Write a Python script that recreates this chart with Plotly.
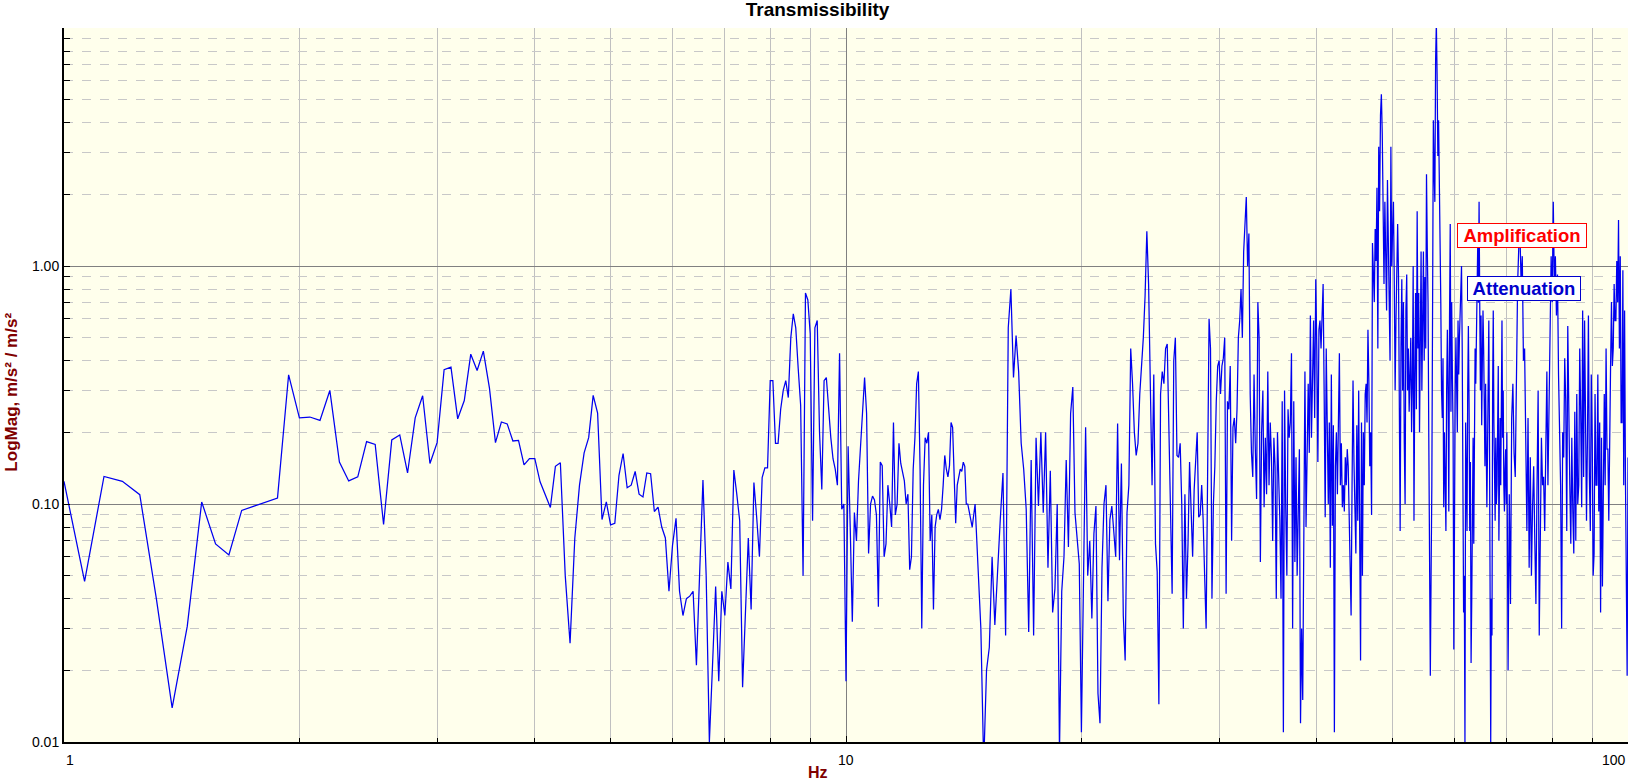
import numpy as np
import plotly.graph_objects as go

# ---------------- data (frequency bins, magnitude) ----------------
# Segment 1: 1.0 Hz .. 14.3125 Hz, bins every 0.0625 Hz (16 values per Hz row)
SEG1_START, SEG1_STEP = 1.0, 0.0625
mag_seg1 = [
    0.1245, 0.0473, 0.1306, 0.1245, 0.1094, 0.040, 0.0139, 0.0306, 0.102, 0.068, 0.0611, 0.094, 0.098, 0.102, 0.106, 0.349,
    0.23, 0.232, 0.2245, 0.30, 0.15, 0.125, 0.13, 0.183, 0.178, 0.082, 0.186, 0.195, 0.135, 0.23, 0.285, 0.148,
    0.181, 0.367, 0.376, 0.228, 0.272, 0.426, 0.364, 0.439, 0.307, 0.181, 0.221, 0.217, 0.184, 0.185, 0.146, 0.155,
    0.155, 0.124, 0.109, 0.0967, 0.144, 0.149, 0.05, 0.026, 0.072, 0.12, 0.164, 0.19, 0.286, 0.241, 0.086, 0.102,
    0.0817, 0.083, 0.132, 0.163, 0.117, 0.12, 0.137, 0.11, 0.107, 0.135, 0.134, 0.093, 0.097, 0.08, 0.072, 0.043,
    0.067, 0.087, 0.043, 0.034, 0.04, 0.041, 0.043, 0.021, 0.052, 0.126, 0.05, 0.01, 0.021, 0.045, 0.018, 0.043,
    0.034, 0.057, 0.044, 0.139, 0.11, 0.085, 0.017, 0.036, 0.072, 0.036, 0.123, 0.088, 0.06, 0.129, 0.142, 0.142,
    0.33, 0.33, 0.18, 0.18, 0.25, 0.30, 0.33, 0.28, 0.5, 0.63, 0.55, 0.37, 0.26, 0.05, 0.77, 0.72,
    0.52, 0.085, 0.55, 0.59, 0.2, 0.115, 0.33, 0.34, 0.25, 0.19, 0.155, 0.14, 0.12, 0.43, 0.095, 0.1,
    0.018, 0.175, 0.08, 0.032, 0.092, 0.07, 0.125, 0.175, 0.22, 0.34, 0.24, 0.062, 0.1, 0.108, 0.104, 0.09,
    0.037, 0.15, 0.145, 0.06, 0.068, 0.12, 0.1, 0.08, 0.22, 0.09, 0.1, 0.18, 0.148, 0.135, 0.125, 0.1,
    0.11, 0.053, 0.06, 0.14, 0.19, 0.32, 0.36, 0.14, 0.03, 0.12, 0.19, 0.18, 0.2, 0.07, 0.09, 0.036,
    0.08, 0.09, 0.095, 0.086, 0.095, 0.12, 0.16, 0.14, 0.13, 0.145, 0.22, 0.21, 0.12, 0.083, 0.12, 0.13,
    0.14, 0.137, 0.15, 0.144, 0.1, 0.1,
]

# Segment 2: 14.375 Hz .. 40 Hz, every 0.125 Hz (8 values per Hz row)
SEG2_START, SEG2_STEP = 14.375, 0.125
mag_seg2 = [
    0.093, 0.08, 0.1, 0.056, 0.03,
    0.008, 0.02, 0.025, 0.06, 0.031, 0.056, 0.086, 0.135,
    0.028, 0.55, 0.8, 0.34, 0.51, 0.36, 0.18, 0.14,
    0.095, 0.029, 0.153, 0.028, 0.19, 0.098, 0.2, 0.092,
    0.2, 0.054, 0.138, 0.035, 0.044, 0.1, 0.009, 0.043,
    0.06, 0.153, 0.066, 0.24, 0.31, 0.092, 0.07, 0.056,
    0.011, 0.05, 0.21, 0.05, 0.07, 0.033, 0.075, 0.098,
    0.016, 0.012, 0.054, 0.1, 0.12, 0.039, 0.086, 0.098,
    0.075, 0.06, 0.218, 0.058, 0.148, 0.034, 0.022, 0.092,
    0.12, 0.45, 0.32, 0.2, 0.16, 0.18, 0.29, 0.38,
    0.5, 0.75, 1.4, 0.84, 0.3, 0.12, 0.35, 0.068,
    0.052, 0.0144, 0.29, 0.36, 0.32, 0.45, 0.47, 0.22,
    0.12, 0.042, 0.4, 0.5, 0.16, 0.157, 0.18, 0.1,
    0.03, 0.11, 0.04, 0.068, 0.15, 0.093, 0.06, 0.115,
    0.15, 0.2, 0.088, 0.09, 0.12, 0.085, 0.05, 0.03,
    0.13, 0.6, 0.45, 0.04, 0.1, 0.144, 0.27, 0.38,
    0.4, 0.29, 0.38, 0.41, 0.5, 0.042, 0.27, 0.25,
    0.38, 0.07, 0.21, 0.23, 0.18, 0.25, 0.5, 0.59,
    0.8, 0.5, 1.15, 1.56, 1.95, 1.0, 1.37, 0.29,
    0.164, 0.13, 0.35, 0.17, 0.105, 0.705, 0.5, 0.057,
    0.2, 0.3, 0.097, 0.19, 0.11, 0.36, 0.12, 0.22,
    0.157, 0.07, 0.19, 0.144, 0.04, 0.2, 0.144, 0.085,
    0.04, 0.27, 0.011, 0.3, 0.097, 0.05, 0.25, 0.19,
    0.22, 0.43, 0.03, 0.27, 0.057, 0.157, 0.05, 0.085,
    0.17, 0.012, 0.03, 0.015, 0.093, 0.36, 0.08, 0.19,
    0.32, 0.164, 0.62, 0.19, 0.35, 0.59, 0.23, 0.88,
    0.45,
]

# Segment 3: 40.125 Hz .. 70 Hz, every 0.125 Hz (8 values per Hz row)
SEG3_START, SEG3_STEP = 40.125, 0.125
mag_seg3 = [
    0.15, 0.54, 0.59, 0.45, 0.67, 0.84, 0.29, 0.088,
    0.45, 0.19, 0.1, 0.22, 0.054, 0.35, 0.081, 0.214,
    0.011, 0.144, 0.2, 0.11, 0.2, 0.43, 0.12, 0.18,
    0.097, 0.12, 0.093, 0.157, 0.12, 0.17, 0.144, 0.085,
    0.062, 0.034, 0.12, 0.33, 0.15, 0.077, 0.062, 0.214,
    0.085, 0.3, 0.093, 0.022, 0.22, 0.05, 0.2, 0.12,
    0.29, 0.32, 0.22, 0.54, 0.33, 0.144, 0.2, 0.09,
    1.25, 1.0, 0.705, 1.43, 1.05, 2.13, 0.45, 3.17,
    1.7, 4.3, 5.27, 3.6, 1.56, 0.84, 1.86, 1.2,
    0.65, 2.3, 1.25, 0.92, 0.4, 3.17, 1.0, 1.43,
    1.86, 0.84, 0.3, 0.59, 1.0, 1.5, 0.92, 0.25,
    0.077, 0.45, 0.88, 0.3, 0.705, 0.18, 0.1, 0.65,
    0.92, 0.3, 0.45, 0.244, 0.35, 0.5, 0.2, 0.32,
    1.0, 0.085, 0.35, 0.77, 0.25, 1.7, 0.45, 0.77,
    0.2, 1.0, 1.15, 0.3, 0.59, 1.15, 0.4, 0.9,
    0.45, 2.43, 1.2, 0.705, 0.19, 0.077, 0.019, 0.05,
    0.12, 0.705, 4.1, 2.5, 1.86, 7.3, 10.5, 6.4,
    2.9, 4.1, 2.4, 1.7, 0.705, 0.3, 0.23, 0.41,
    0.097, 0.2, 0.144, 0.077, 0.3, 0.54, 0.29, 0.093,
    0.6, 1.5, 0.244, 0.705, 0.35, 0.2, 0.0245, 0.12,
    0.3, 0.5, 0.32, 0.2, 0.59, 0.35, 0.5, 0.705,
    0.92, 1.0, 0.45, 0.12, 0.035, 0.05, 0.01, 0.22,
    0.12, 0.077, 0.3, 0.56, 0.27, 0.077, 0.15, 0.0215,
    0.04, 0.12, 0.19, 0.068, 0.2, 0.45, 0.32, 0.6,
    0.84, 1.25, 0.7, 1.86, 0.705, 0.3, 0.62, 0.214,
    0.4, 0.65, 0.45, 0.25, 0.144, 0.32, 0.2, 0.097,
    0.17, 0.3, 0.59, 0.2, 0.05, 0.01, 0.04, 0.028,
    0.3, 0.65, 0.22, 0.12, 0.085, 0.19, 0.1, 0.12,
    0.25, 0.38, 0.07, 0.15, 0.23, 0.12, 0.3, 0.59,
    0.19, 0.3, 0.12, 0.093, 0.14, 0.17, 0.1, 0.2,
]

# Segment 4: 70.25 Hz .. 100 Hz, every 0.25 Hz (4 values per Hz row)
SEG4_START, SEG4_STEP = 70.25, 0.25
mag_seg4 = [
    0.02, 0.11, 0.038,
    0.23, 0.32, 0.164, 0.13,
    0.45, 0.84, 1.2, 1.37,
    0.84, 1.1, 0.4, 0.45,
    0.19, 0.077, 0.23, 0.054,
    0.157, 0.05, 0.097, 0.144,
    0.07, 0.038, 0.12, 0.3,
    0.028, 0.093, 0.19, 0.12,
    0.13, 0.077, 0.19, 0.36,
    0.12, 0.27, 0.8, 1.1,
    0.705, 1.86, 0.84, 1.1,
    0.62, 0.92, 0.35, 0.22,
    0.12, 0.03, 0.2, 0.157,
    0.41, 0.27, 0.077, 0.56,
    0.19, 0.12, 0.068, 0.19,
    0.093, 0.062, 0.244, 0.07,
    0.29, 0.1, 0.12, 0.45,
    0.244, 0.097, 0.65, 0.13,
    0.59, 0.23, 0.085, 0.19,
    0.62, 0.13, 0.077, 0.35,
    0.19, 0.05, 0.062, 0.29,
    0.12, 0.12, 0.35, 0.093,
    0.22, 0.035, 0.19, 0.045,
    0.13, 0.29, 0.12, 0.45,
    0.17, 0.17, 0.085, 0.29,
    0.38, 0.705, 0.38, 0.45,
    0.84, 0.59, 0.59, 1.05,
    0.705, 1.56, 0.45, 1.1,
    0.22, 0.22, 0.96, 0.12,
    0.65, 0.13, 0.027, 0.019,
    0.157,
]

# axis tick values / labels
x_major_vals = [1, 10, 100]
x_major_text = ["1", "10", "100"]
y_major_vals = [0.01, 0.1, 1]
y_major_text = ["0.01", "0.10", "1.00"]
x_minor_vals = [d * 10 ** e for e in (0, 1) for d in range(2, 10)]
y_minor_vals = [d * 10.0 ** e for e in (-2, -1, 0) for d in range(2, 10)]

TITLE = "Transmissibility"
X_TITLE = "Hz"
Y_TITLE = "LogMag, m/s² / m/s²"


def seg_freqs(start, step, vals):
    return start + step * np.arange(len(vals))


freq = np.concatenate([
    seg_freqs(SEG1_START, SEG1_STEP, mag_seg1),
    seg_freqs(SEG2_START, SEG2_STEP, mag_seg2),
    seg_freqs(SEG3_START, SEG3_STEP, mag_seg3),
    seg_freqs(SEG4_START, SEG4_STEP, mag_seg4),
])
mag = np.concatenate([mag_seg1, mag_seg2, mag_seg3, mag_seg4])

FONT = "Liberation Sans, Arial, Helvetica, sans-serif"
DARKRED = "#800000"

fig = go.Figure(
    go.Scatter(x=freq, y=mag, mode="lines",
               line=dict(color="#0000F0", width=1.25), hoverinfo="skip")
)

annotations = []
anchors = ["left", "center", "right"]
for v, lab, anc in zip(x_major_vals, x_major_text, anchors):
    annotations.append(dict(
        x=np.log10(v), xref="x", y=0, yref="paper", yanchor="top", yshift=-8,
        xanchor=anc, text=lab, showarrow=False,
        font=dict(family=FONT, size=14, color="black")))

annotations.append(dict(
    text=X_TITLE, xref="paper", yref="paper", x=(818 - 64) / 1564, y=0,
    xanchor="center", yanchor="middle", yshift=-30, showarrow=False,
    font=dict(family=FONT, size=16, color=DARKRED, weight="bold")))
annotations.append(dict(
    text=Y_TITLE, xref="paper", yref="paper", x=-(64 - 11.5) / 1564, y=0.49,
    xanchor="center", yanchor="middle", textangle=-90, showarrow=False,
    font=dict(family=FONT, size=17, color=DARKRED, weight="bold")))
annotations.append(dict(
    text="Amplification", xref="paper", yref="paper", x=0.9322, y=0.7098,
    xanchor="center", yanchor="middle", showarrow=False,
    font=dict(family=FONT, size=18.5, color="#FF0000", weight="bold"),
    bgcolor="white", bordercolor="#FF0000", borderwidth=1, borderpad=1,
    width=126))
annotations.append(dict(
    text="Attenuation", xref="paper", yref="paper", x=0.9334, y=0.6356,
    xanchor="center", yanchor="middle", showarrow=False,
    font=dict(family=FONT, size=18.5, color="#0000CC", weight="bold"),
    bgcolor="white", bordercolor="#0000CC", borderwidth=1, borderpad=1,
    width=110))

fig.update_layout(
    width=1635, height=780, autosize=False,
    margin=dict(l=64, r=7, t=28, b=38, pad=0),
    paper_bgcolor="white", plot_bgcolor="#FFFFEC",
    showlegend=False,
    font=dict(family=FONT, size=14, color="black"),
    title=dict(text=TITLE, x=0.5, xref="container", xanchor="center",
               y=1 - 9.5 / 780, yanchor="middle",
               font=dict(family=FONT, size=19, color="black", weight="bold")),
    annotations=annotations,
)

fig.update_xaxes(
    type="log", range=[0, 2], tickmode="array", tickvals=[10], showticklabels=False,
    ticks="inside", ticklen=6, tickcolor="black", tickwidth=1,
    showgrid=True, gridcolor="#808080", gridwidth=1,
    showline=True, linecolor="black", linewidth=2, zeroline=False, mirror=False,
    minor=dict(tickmode="array", tickvals=x_minor_vals, ticks="inside", ticklen=4,
               tickcolor="black", tickwidth=1, showgrid=True,
               gridcolor="#C0C0C0", gridwidth=1),
)
fig.update_yaxes(
    type="log", range=[-2, 1], tickmode="array", tickvals=y_major_vals, ticktext=y_major_text,
    ticks="inside", ticklen=6, tickcolor="black", tickwidth=1,
    tickfont=dict(family=FONT, size=14, color="black"),
    showgrid=True, gridcolor="#808080", gridwidth=1,
    showline=True, linecolor="black", linewidth=2, zeroline=False,
    minor=dict(tickmode="array", tickvals=y_minor_vals, ticks="inside", ticklen=6,
               tickcolor="black", tickwidth=1, showgrid=True,
               gridcolor="#C8C8C8", gridwidth=1, griddash="dash"),
)

fig.write_html(
    "out.html",
    config={"displayModeBar": False},
    post_script="document.body.style.margin='0';document.body.style.overflow='hidden';",
)
